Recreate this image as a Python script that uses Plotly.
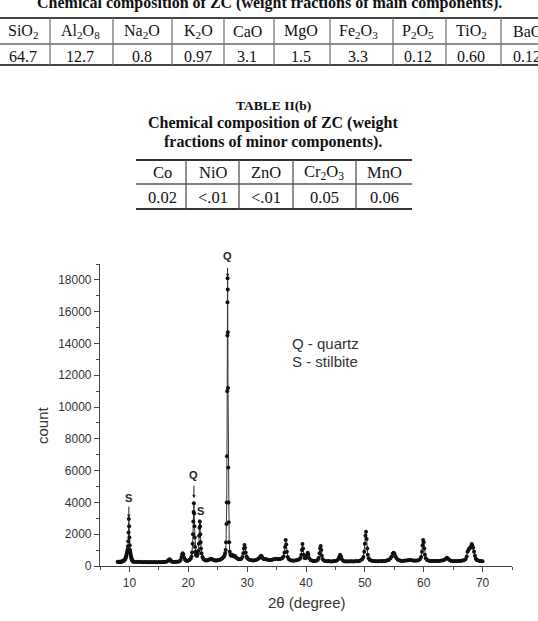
import plotly.graph_objects as go

# ---------------- data ----------------
table1_headers = ["SiO<sub>2</sub>", "Al<sub>2</sub>O<sub>8</sub>", "Na<sub>2</sub>O", "K<sub>2</sub>O", "CaO",
                  "MgO", "Fe<sub>2</sub>O<sub>3</sub>", "P<sub>2</sub>O<sub>5</sub>", "TiO<sub>2</sub>", "BaO"]
table1_values = ["64.7", "12.7", "0.8", "0.97", "3.1", "1.5", "3.3", "0.12", "0.60", "0.12"]
table2_headers = ["Co", "NiO", "ZnO", "Cr<sub>2</sub>O<sub>3</sub>", "MnO"]
table2_values = ["0.02", "&lt;.01", "&lt;.01", "0.05", "0.06"]

two_theta = [
    8.0, 8.1, 8.2, 8.3, 8.4, 8.5, 8.6, 8.7, 8.8, 8.9,
    9.0, 9.1, 9.2, 9.3, 9.35, 9.4, 9.45, 9.5, 9.55, 9.6,
    9.65, 9.7, 9.75, 9.8, 9.85, 9.9, 9.95, 10.0, 10.05, 10.1,
    10.15, 10.2, 10.25, 10.3, 10.35, 10.4, 10.45, 10.5, 10.55, 10.6,
    10.75, 11.0, 11.25, 11.5, 11.75, 12.0, 12.25, 12.5, 12.75, 13.0,
    13.25, 13.5, 13.75, 14.0, 14.25, 14.5, 14.75, 15.0, 15.25, 15.5,
    15.75, 16.0, 16.25, 16.5, 16.65, 16.8, 16.95, 17.1, 17.3, 17.5,
    17.75, 18.0, 18.25, 18.5, 18.7, 18.85, 18.95, 19.05, 19.15, 19.3,
    19.45, 19.6, 19.8, 20.0, 20.2, 20.4, 20.55, 20.65, 20.75, 20.8,
    20.85, 20.9, 20.95, 21.0, 21.05, 21.1, 21.15, 21.2, 21.3, 21.4,
    21.5, 21.6, 21.7, 21.8, 21.85, 21.9, 21.95, 22.0, 22.05, 22.1,
    22.15, 22.25, 22.4, 22.55, 22.7, 22.9, 23.1, 23.3, 23.5, 23.7,
    23.85, 24.0, 24.2, 24.4, 24.6, 24.8, 25.0, 25.2, 25.4, 25.6,
    25.8, 26.0, 26.15, 26.25, 26.35, 26.42, 26.48, 26.53, 26.57, 26.61,
    26.64, 26.66, 26.68, 26.7, 26.72, 26.75, 26.79, 26.83, 26.88, 26.95,
    27.05, 27.15, 27.3, 27.45, 27.6, 27.75, 27.9, 28.05, 28.2, 28.4,
    28.6, 28.8, 29.0, 29.2, 29.35, 29.45, 29.55, 29.65, 29.75, 29.9,
    30.05, 30.25, 30.5, 30.75, 31.0, 31.25, 31.5, 31.75, 32.0, 32.2,
    32.35, 32.5, 32.65, 32.85, 33.0, 33.25, 33.5, 33.75, 34.0, 34.25,
    34.5, 34.75, 35.0, 35.25, 35.5, 35.75, 36.0, 36.2, 36.35, 36.45,
    36.55, 36.65, 36.75, 36.9, 37.1, 37.35, 37.6, 37.85, 38.1, 38.35,
    38.6, 38.85, 39.05, 39.2, 39.3, 39.4, 39.5, 39.6, 39.75, 39.9,
    40.05, 40.2, 40.3, 40.4, 40.55, 40.75, 41.0, 41.25, 41.5, 41.75,
    42.0, 42.15, 42.3, 42.4, 42.5, 42.6, 42.7, 42.85, 43.05, 43.3,
    43.55, 43.8, 44.05, 44.3, 44.55, 44.8, 45.05, 45.3, 45.5, 45.65,
    45.8, 45.95, 46.1, 46.3, 46.55, 46.8, 47.05, 47.3, 47.55, 47.8,
    48.05, 48.3, 48.55, 48.8, 49.05, 49.3, 49.55, 49.75, 49.9, 50.0,
    50.1, 50.2, 50.3, 50.4, 50.5, 50.65, 50.85, 51.1, 51.35, 51.6,
    51.85, 52.1, 52.35, 52.6, 52.85, 53.1, 53.35, 53.6, 53.85, 54.1,
    54.35, 54.55, 54.75, 54.9, 55.05, 55.2, 55.4, 55.6, 55.85, 56.1,
    56.35, 56.6, 56.85, 57.1, 57.35, 57.6, 57.85, 58.1, 58.35, 58.6,
    58.85, 59.1, 59.35, 59.55, 59.7, 59.8, 59.9, 60.0, 60.1, 60.2,
    60.35, 60.55, 60.8, 61.05, 61.3, 61.55, 61.8, 62.05, 62.3, 62.55,
    62.8, 63.05, 63.3, 63.55, 63.75, 63.95, 64.15, 64.35, 64.6, 64.85,
    65.1, 65.35, 65.6, 65.85, 66.1, 66.35, 66.6, 66.85, 67.1, 67.3,
    67.45, 67.6, 67.75, 67.9, 68.05, 68.15, 68.25, 68.4, 68.55, 68.7,
    68.85, 69.0, 69.25, 69.5, 69.75, 70.0,
]
counts = [
    260, 250, 268, 252, 272, 258, 282, 274, 300, 312,
    330, 362, 400, 460, 500, 560, 620, 700, 780, 860,
    930, 1050, 1250, 1550, 2100, 2950, 2500, 1800, 1300, 1000,
    880, 760, 650, 560, 480, 420, 380, 340, 310, 290,
    270, 255, 250, 262, 245, 250, 240, 255, 245, 240,
    250, 238, 245, 235, 248, 240, 236, 245, 240, 250,
    245, 255, 270, 320, 380, 430, 370, 300, 260, 250,
    255, 260, 270, 300, 380, 560, 720, 800, 720, 520,
    400, 340, 320, 340, 380, 450, 600, 850, 1400, 2000,
    2800, 3400, 3950, 3300, 2500, 1800, 1200, 900, 700, 640,
    650, 750, 950, 1400, 1900, 2400, 2800, 2500, 2000, 1500,
    1100, 800, 560, 450, 400, 360, 340, 360, 400, 430,
    450, 440, 400, 360, 340, 350, 360, 380, 400, 440,
    480, 560, 650, 800, 1000, 1500, 2650, 4000, 6900, 11000,
    14500, 16600, 18100, 17400, 14700, 11200, 6200, 4000, 2750, 1500,
    900, 700, 640, 700, 650, 600, 640, 560, 500, 450,
    420, 420, 460, 560, 800, 1100, 1320, 1150, 850, 600,
    480, 420, 380, 360, 350, 360, 380, 420, 480, 560,
    640, 600, 480, 420, 440, 430, 400, 380, 370, 390,
    420, 440, 450, 430, 440, 460, 500, 600, 850, 1200,
    1640, 1350, 900, 560, 420, 360, 340, 330, 340, 360,
    380, 420, 500, 700, 1000, 1380, 1100, 700, 500, 480,
    560, 700, 840, 700, 480, 380, 340, 320, 310, 330,
    380, 500, 800, 1100, 1260, 1000, 650, 420, 340, 310,
    300, 310, 300, 290, 300, 310, 320, 360, 440, 580,
    700, 600, 420, 330, 300, 290, 300, 290, 295, 300,
    290, 300, 310, 300, 320, 360, 420, 560, 900, 1400,
    1900, 2160, 1700, 1100, 700, 480, 380, 340, 320, 310,
    300, 305, 300, 310, 300, 310, 320, 330, 360, 400,
    480, 600, 780, 840, 760, 600, 480, 400, 360, 330,
    320, 330, 340, 350, 360, 380, 370, 350, 340, 330,
    340, 360, 420, 560, 900, 1300, 1640, 1500, 1100, 700,
    480, 380, 340, 320, 310, 320, 310, 315, 310, 320,
    330, 340, 360, 400, 460, 520, 460, 380, 330, 310,
    300, 310, 305, 310, 320, 330, 340, 360, 420, 600,
    900, 1000, 1100, 1150, 1250, 1380, 1300, 1150, 900, 650,
    450, 380, 340, 320, 310, 300,
]
assert len(two_theta) == len(counts)

peak_labels = ["S", "Q", "S", "Q"]
peak_positions = [9.9, 20.95, 22.0, 26.68]
legend_lines = ["Q - quartz", "S - stilbite"]

# ---------------- layout helpers ----------------
W, H = 538, 621
L, R, T, B = 100, 26, 264, 55
PW, PH = W - L - R, H - T - B


def fx(px):
    return (px - L) / PW


def fy(py):
    return (H - B - py) / PH


SERIF = "Liberation Serif, Times New Roman, serif"
SANS = "Liberation Sans, Arial, sans-serif"

fig = go.Figure()
fig.add_trace(go.Scatter(
    x=two_theta, y=counts, mode="lines+markers",
    line=dict(color="#333333", width=1),
    marker=dict(color="#111111", size=4),
    showlegend=False, hoverinfo="x+y",
))

annotations = []
shapes = []


def text(px, py, s, size, family=SERIF, xanchor="center", color="#111111"):
    annotations.append(dict(x=fx(px), y=fy(py), xref="paper", yref="paper", text=s,
                            showarrow=False, xanchor=xanchor, yanchor="middle",
                            font=dict(size=size, family=family, color=color)))


def hline(x0, x1, y, width, color):
    shapes.append(dict(type="line", xref="paper", yref="paper", x0=fx(x0), x1=fx(x1),
                       y0=fy(y), y1=fy(y), line=dict(color=color, width=width)))


def vline(x, y0, y1, width, color):
    shapes.append(dict(type="line", xref="paper", yref="paper", x0=fx(x), x1=fx(x),
                       y0=fy(y0), y1=fy(y1), line=dict(color=color, width=width)))


# ---- Table 1 (main components) ----
text(269, 3, "<b>Chemical composition of ZC (weight fractions of main components).</b>", 16)
t1_centers = [23, 80, 142, 198, 247, 301, 358, 418, 471, 527]
t1_seps = [50, 113, 172, 224, 274, 330, 393, 446, 501]
for cx, h, v in zip(t1_centers, table1_headers, table1_values):
    text(cx, 31.5, h, 16)
    text(cx, 56, v, 16)
hline(0, 538, 18, 2, "#444444")
hline(0, 538, 44, 1.4, "#666666")
hline(0, 538, 65, 2, "#444444")
for sx in t1_seps:
    vline(sx, 18, 65, 1.3, "#777777")

# ---- Table 2 (minor components) ----
text(273, 105, "<b>TABLE II(b)</b>", 13.5)
text(273, 123, "<b>Chemical composition of ZC (weight</b>", 16)
text(273, 142, "<b>fractions of minor components).</b>", 16)
t2_centers = [162, 213, 266, 324, 384]
t2_seps = [186, 239, 293, 356]
for cx, h, v in zip(t2_centers, table2_headers, table2_values):
    text(cx, 172, h, 16.5)
    text(cx, 197, v, 16.5)
hline(136, 412, 160, 2, "#333333")
hline(136, 412, 184, 1.4, "#555555")
hline(136, 412, 209, 2, "#333333")
for sx in t2_seps:
    vline(sx, 160, 209, 1.3, "#555555")

# ---- chart texts ----
text(290, 343, legend_lines[0], 15, family=SANS, xanchor="left", color="#333333")
text(290, 361, legend_lines[1], 15, family=SANS, xanchor="left", color="#333333")
text(307, 602, "2θ (degree)", 15, family=SANS, color="#333333")
annotations.append(dict(x=fx(42), y=fy(425), xref="paper", yref="paper", text="count",
                        showarrow=False, textangle=-90, xanchor="center", yanchor="middle",
                        font=dict(size=15, family=SANS, color="#333333")))

label_offsets = [-21, -28, -15, -22]
label_start = [1, 3, 1, 4]
label_end = [1, 5, 1, 1]
for lab, pos, ay, ss, es in zip(peak_labels, peak_positions, label_offsets, label_start, label_end):
    idx = min(range(len(two_theta)), key=lambda i: abs(two_theta[i] - pos))
    annotations.append(dict(x=two_theta[idx], y=counts[idx], xref="x", yref="y",
                            text="<b>%s</b>" % lab, showarrow=True, ax=0, ay=ay,
                            arrowhead=2, arrowsize=0.7, arrowwidth=1, arrowcolor="#222222",
                            startstandoff=ss, standoff=es,
                            font=dict(size=11, family=SANS, color="#222222")))

axis_common = dict(showline=True, linecolor="#444444", linewidth=1.2, ticks="outside",
                   ticklen=5, tickwidth=1.1, tickcolor="#444444", showgrid=False, zeroline=False,
                   tickfont=dict(size=12, family=SANS, color="#333333"), mirror=False,
                   tickformat="d")

fig.update_layout(
    width=W, height=H, margin=dict(l=L, r=R, t=T, b=B, pad=0),
    paper_bgcolor="white", plot_bgcolor="white",
    annotations=annotations, shapes=shapes,
    xaxis=dict(range=[5, 75], tick0=10, dtick=10,
               minor=dict(dtick=5, tick0=5, ticks="outside", ticklen=3, tickcolor="#444444"),
               **axis_common),
    yaxis=dict(range=[0, 19000], tick0=0, dtick=2000,
               minor=dict(dtick=1000, tick0=0, ticks="outside", ticklen=3, tickcolor="#444444"),
               **axis_common),
)

fig.write_html("out.html")
